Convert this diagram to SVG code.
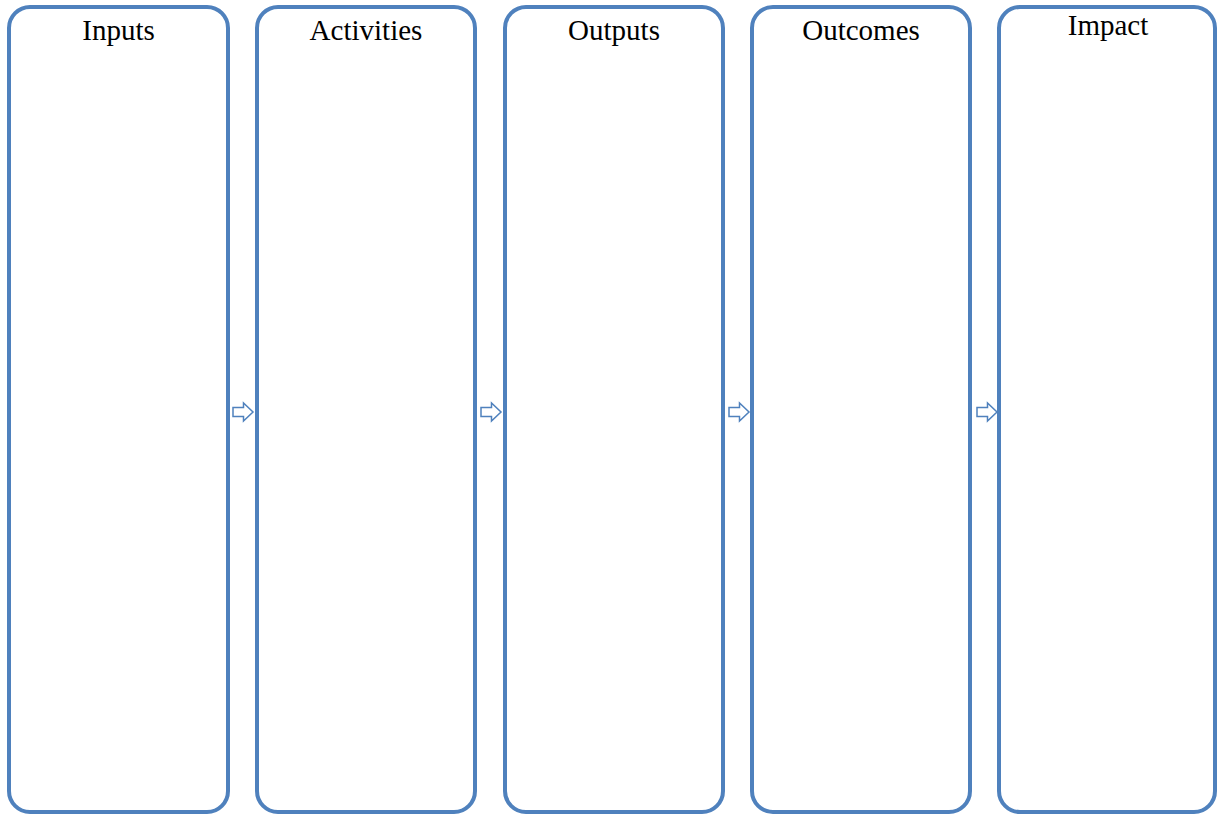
<svg xmlns="http://www.w3.org/2000/svg" width="1219" height="814" viewBox="0 0 1219 814">
<style>
.box{fill:#fff;stroke:#4F81BD;stroke-width:4}
.lbl{font-family:"Liberation Serif","Times New Roman",serif;font-size:29px;fill:#000;text-anchor:middle}
.arr{fill:#fff;stroke:#4F81BD;stroke-width:1.5;stroke-linejoin:miter}
</style>
<defs>
<path id="arrow" d="M0,4.5 H10.5 V0 L20,9 L10.5,18 V13.5 H0 Z"/>
</defs>
<rect width="1219" height="814" fill="#fff"/>
<g id="inputs"><rect class="box" x="9" y="7" width="219" height="805" rx="21"/><text class="lbl" x="118.5" y="40">Inputs</text></g>
<g id="activities"><rect class="box" x="257" y="7" width="218" height="805" rx="21"/><text class="lbl" x="366" y="40">Activities</text></g>
<g id="outputs"><rect class="box" x="505" y="7" width="218" height="805" rx="21"/><text class="lbl" x="614" y="40">Outputs</text></g>
<g id="outcomes"><rect class="box" x="752" y="7" width="218" height="805" rx="21"/><text class="lbl" x="861" y="40">Outcomes</text></g>
<g id="impact"><rect class="box" x="999" y="7" width="216" height="805" rx="21"/><text class="lbl" x="1108" y="35">Impact</text></g>
<g id="connectors">
<use href="#arrow" class="arr" x="233" y="403"/>
<use href="#arrow" class="arr" x="481" y="403"/>
<use href="#arrow" class="arr" x="729" y="403"/>
<use href="#arrow" class="arr" x="977" y="403"/>
</g>
</svg>
